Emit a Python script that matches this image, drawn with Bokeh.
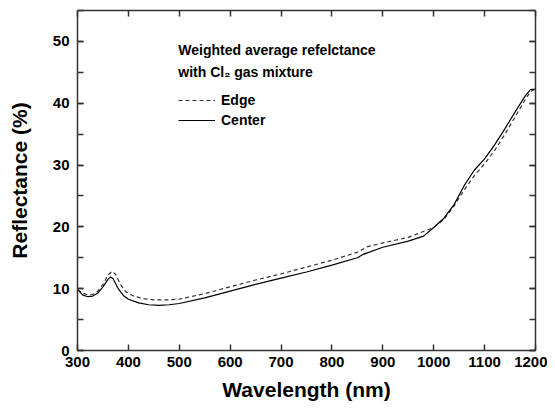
from bokeh.plotting import figure
from bokeh.models import (LinearAxis, SingleIntervalTicker, Legend, LegendItem, Label, Range1d)
from bokeh.embed import file_html
from bokeh.resources import INLINE

wl_center = [300, 310, 320, 330, 340, 350, 360, 365, 370, 380, 390, 400, 420, 440, 460, 480, 500,
             550, 600, 650, 700, 750, 800, 850, 860, 900, 950, 980, 1000, 1020, 1040, 1060, 1080,
             1100, 1120, 1140, 1160, 1180, 1190, 1200]
refl_center = [9.9, 9.0, 8.7, 8.8, 9.3, 10.3, 11.5, 11.9, 11.6, 10.0, 8.9, 8.3, 7.7, 7.4, 7.3, 7.4, 7.6,
               8.5, 9.6, 10.7, 11.7, 12.7, 13.8, 15.0, 15.5, 16.7, 17.7, 18.5, 19.9, 21.4, 23.6, 26.7, 29.2,
               31.0, 33.3, 35.9, 38.6, 41.2, 42.2, 42.3]

wl_edge = [300, 310, 320, 330, 340, 350, 360, 368, 375, 385, 395, 410, 430, 450, 480, 500,
           550, 600, 650, 700, 750, 800, 850, 870, 900, 950, 1000, 1020, 1040, 1060, 1080,
           1100, 1120, 1140, 1160, 1180, 1190, 1200]
refl_edge = [9.8, 9.3, 9.0, 9.1, 9.6, 10.7, 12.2, 12.8, 12.3, 10.6, 9.5, 8.8, 8.4, 8.2, 8.2, 8.3,
             9.2, 10.3, 11.4, 12.4, 13.5, 14.6, 15.9, 16.8, 17.4, 18.3, 19.9, 21.2, 23.4, 26.0, 28.3,
             30.2, 32.4, 35.0, 37.8, 40.6, 41.9, 42.3]

FONT = "Liberation Sans"
AXC = "#333333"

p = figure(width=547, height=404, output_backend="svg", toolbar_location=None,
           x_range=Range1d(300, 1200), y_range=Range1d(0, 55),
           min_border_left=77, min_border_right=12, min_border_top=10, min_border_bottom=54)
p.xgrid.visible = False
p.ygrid.visible = False
p.outline_line_color = None
p.background_fill_color = "white"

r_edge = p.line(wl_edge, refl_edge, line_color="#333333", line_width=1.2, line_dash="4 3")
r_center = p.line(wl_center, refl_center, line_color="black", line_width=1.2)

def style(ax, labels=True):
    ax.axis_line_color = AXC
    ax.axis_line_width = 1.5
    ax.major_tick_line_color = AXC
    ax.minor_tick_line_color = AXC
    ax.major_tick_line_width = 1.5
    ax.minor_tick_line_width = 1.5
    ax.major_tick_in = 6
    ax.major_tick_out = 0
    ax.minor_tick_in = 6
    ax.minor_tick_out = 0
    ax.major_label_text_font = FONT
    ax.major_label_text_font_style = "bold"
    ax.major_label_text_font_size = "15px"
    ax.major_label_text_color = "black"
    if not labels:
        ax.major_label_text_font_size = "0px"
        ax.major_label_text_color = None

xt = SingleIntervalTicker(interval=100, num_minor_ticks=0)
yt = SingleIntervalTicker(interval=10, num_minor_ticks=2)

p.xaxis.ticker = xt
p.yaxis.ticker = yt
style(p.xaxis[0])
style(p.yaxis[0])
p.xaxis.major_label_standoff = 6
p.yaxis.major_label_standoff = 8

p.xaxis.axis_label = "Wavelength (nm)"
p.yaxis.axis_label = "Reflectance (%)"
for ax in (p.xaxis[0], p.yaxis[0]):
    ax.axis_label_text_font = FONT
    ax.axis_label_text_font_style = "bold"
    ax.axis_label_text_font_size = "21px"
    ax.axis_label_text_color = "black"
p.xaxis.axis_label_standoff = 8
p.yaxis.axis_label_standoff = 19

top = LinearAxis(ticker=SingleIntervalTicker(interval=100, num_minor_ticks=0))
style(top, labels=False)
p.add_layout(top, "above")
right = LinearAxis(ticker=SingleIntervalTicker(interval=10, num_minor_ticks=2))
style(right, labels=False)
p.add_layout(right, "right")

for txt, yv in [("Weighted average refelctance", 48.6), ("with Cl\u2082 gas mixture", 45.1)]:
    p.add_layout(Label(x=498, y=yv, text=txt, text_font=FONT, text_font_style="bold",
                       text_font_size="14px", text_baseline="middle", text_color="black"))

legend = Legend(items=[LegendItem(label="Edge", renderers=[r_edge]),
                       LegendItem(label="Center", renderers=[r_center])],
                location=(101, 220), border_line_color=None, background_fill_alpha=0,
                padding=0, margin=0, spacing=0, label_height=20, glyph_height=20,
                glyph_width=37, label_standoff=6,
                label_text_font=FONT, label_text_font_style="bold",
                label_text_font_size="14px", label_text_color="black")
p.add_layout(legend, "center")

open("out.html", "w").write(file_html(p, INLINE))
